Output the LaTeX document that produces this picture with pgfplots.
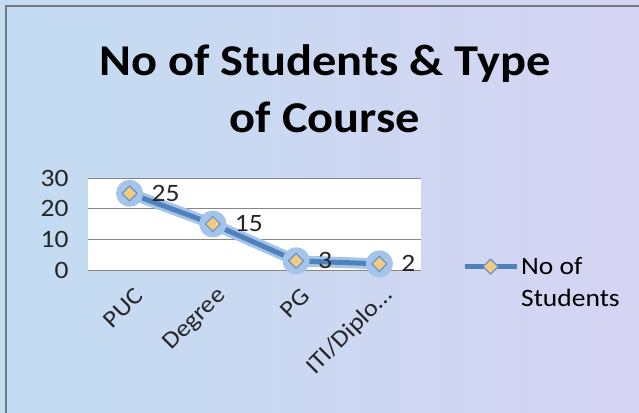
\documentclass[border=0pt]{standalone}
\usepackage{fontspec}
\setmainfont{Carlito}[FakeStretch=1.1]
\usepackage{pgfplots}
\pgfplotsset{compat=1.18}
\definecolor{bgA}{RGB}{194,220,242}
\definecolor{bgB}{RGB}{214,212,242}
\definecolor{lineblue}{RGB}{79,129,189}
\definecolor{glowblue}{RGB}{165,196,234}
\definecolor{markfill}{RGB}{242,202,128}
\definecolor{gridgray}{RGB}{134,134,134}
\definecolor{framegray}{RGB}{120,120,120}
\pgfplotsset{mylegend/.style={legend image code/.code={\draw[mark repeat=2,mark phase=2,##1] plot coordinates {(0pt,8pt) (26pt,8pt) (52pt,8pt)};}}}
\begin{document}
\begin{tikzpicture}[x=1pt,y=1pt]
\useasboundingbox (0,0) rectangle (639,412);
\shade[left color=bgA, right color=bgB] (0,0) rectangle (639,412);
\draw[framegray, line width=2] (6,-10) -- (6,406) -- (650,406);
\node[anchor=base, font=\fontsize{44}{50}\bfseries\selectfont] at (325,336) {No of Students \& Type};
\node[anchor=base, font=\fontsize{44}{50}\bfseries\selectfont] at (325,279) {of Course};
\begin{axis}[
  at={(88pt,142pt)}, anchor=south west,
  scale only axis, width=333pt, height=92pt,
  xmin=-0.5, xmax=3.5, ymin=0, ymax=30,
  xtick={0,1,2,3}, xticklabels={PUC,Degree,PG,{ITI/Diplo…}},
  ytick={0,10,20,30},
  ymajorgrids, grid style={gridgray, line width=0.8pt},
  axis background/.style={fill=white},
  axis x line*=bottom, axis y line*=left,
  y axis line style={draw=none},
  x axis line style={gridgray, line width=0.8pt, -},
  major tick length=0pt,
  clip=false,
  /pgf/number format/assume math mode=true,
  tick label style={font=\fontsize{25}{30}\selectfont, text=black!85},
  yticklabel style={xshift=-16pt},
  xticklabel style={font=\fontsize{24}{30}\selectfont, xshift=12pt, yshift=-20pt, rotate=45, anchor=east},
  legend style={at={(axis description cs:1.123,0.217)}, anchor=north west,
    draw=none, fill=none, inner sep=0pt,
    font=\fontsize{25}{32}\selectfont,
    cells={anchor=base west, inner sep=3pt}},
]
\addplot[glowblue, line width=11pt, line join=round, forget plot,
  mark=*, mark size=8pt, mark options={draw=none, fill=glowblue}]
  coordinates {(0,25) (1,15) (2,3) (3,2)};
\addplot[lineblue, line width=5pt, line join=round,
  mark=square*, mark size=5.3pt,
  mark options={rotate=45, fill=markfill, draw=lineblue!85, line width=1.2pt},
  nodes near coords,
  every node near coord/.append style={anchor=west, xshift=18pt, text=black!85, font=\fontsize{25}{30}\selectfont},
  mylegend]
  coordinates {(0,25) (1,15) (2,3) (3,2)};
\addlegendentry{\begin{tabular}[t]{@{}l@{}}No of\\Students\end{tabular}}
\end{axis}
\end{tikzpicture}
\end{document}
